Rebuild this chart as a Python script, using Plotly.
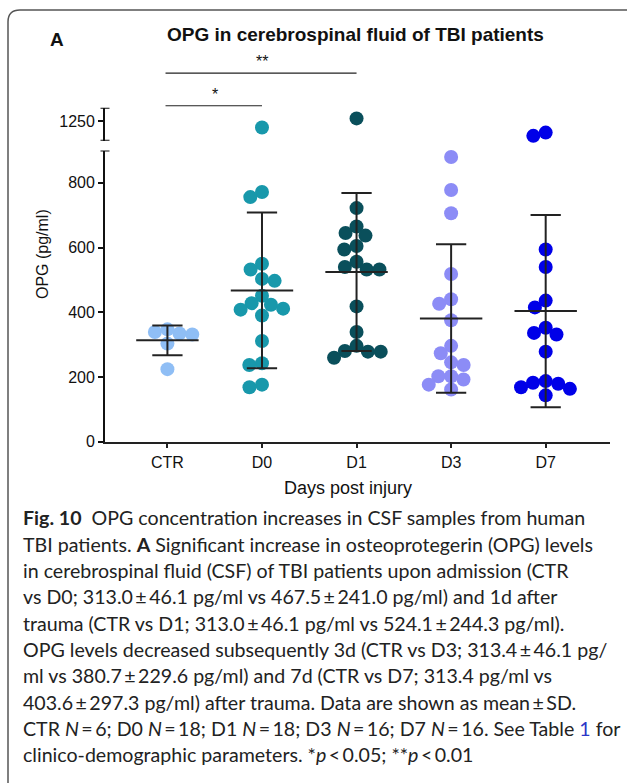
import math
import plotly.graph_objects as go

# ---------------- data ----------------
categories = ["CTR", "D0", "D1", "D3", "D7"]
ctr_values = [339, 334, 331, 347, 303, 224]
d0_values = [1230, 772, 756, 532, 550, 497, 503, 451, 428, 423, 411, 408, 390, 311, 242, 237, 176, 168]
d1_values = [1258, 722, 665, 645, 637, 594, 605, 556, 540, 532, 532, 418, 339, 296, 280, 278, 278, 259]
d3_values = [880, 778, 706, 518, 440, 426, 375, 296, 273, 245, 237, 202, 202, 192, 176, 161]
d7_values = [1214, 1204, 594, 540, 436, 415, 352, 336, 331, 278, 182, 179, 187, 168, 163, 143]
means = [313.0, 467.5, 524.1, 380.7, 403.6]
sds = [46.1, 241.0, 244.3, 229.6, 297.3]
colors = ["#8FBEF5", "#1898AB", "#0A4F5B", "#8C8CF6", "#0000E8"]
lower_ticks = [0, 200, 400, 600, 800]
upper_ticks = [1250]
group_values = [ctr_values, d0_values, d1_values, d3_values, d7_values]

# ---------------- layout geometry ----------------
W, H = 627, 783
X_LEFT, X_RIGHT = 105, 610
Y0_PX, Y900_PX = 446.7, 152.3         # lower segment (page px from top)
UP_BOT_PX, UP_TOP_PX = 142.3, 109.0   # upper segment
LOWER_RANGE = [0, 900]
UPPER_RANGE = [1189, 1291]
XRANGE = [-0.66, 4.68]
BREAK = LOWER_RANGE[1]

def py(p):
    return (H - p) / H

def px(p):
    return p / W

px_per_cat = (X_RIGHT - X_LEFT) / (XRANGE[1] - XRANGE[0])
lower_scale = (Y0_PX - Y900_PX) / (LOWER_RANGE[1] - LOWER_RANGE[0])
upper_scale = (UP_BOT_PX - UP_TOP_PX) / (UPPER_RANGE[1] - UPPER_RANGE[0])

def value_to_px(v):
    # vertical pixel height above the zero line, used only for the swarm layout
    if v <= BREAK:
        return (v - LOWER_RANGE[0]) * lower_scale
    return (Y0_PX - UP_BOT_PX) + (v - UPPER_RANGE[0]) * upper_scale

def swarm_offsets(values, diam=12.8):
    order = sorted(range(len(values)), key=lambda i: -values[i])
    placed = []
    offs = [0.0] * len(values)
    for i in order:
        y = value_to_px(values[i])
        cands = [0.0]
        for (xj, yj) in placed:
            dy = abs(y - yj)
            if dy < diam:
                dx = math.sqrt(diam * diam - dy * dy)
                cands += [xj - dx, xj + dx]
        cands.sort(key=lambda c: (abs(c), c))
        chosen = 0.0
        for c in cands:
            if all((c - xj) ** 2 + (y - yj) ** 2 >= diam * diam - 1e-6 for (xj, yj) in placed):
                chosen = c
                break
        placed.append((chosen, y))
        offs[i] = chosen / px_per_cat
    return offs

fig = go.Figure()

# ---------------- points ----------------
for gi, vals in enumerate(group_values):
    offs = swarm_offsets(vals)
    lx = [gi + o for v, o in zip(vals, offs) if v <= BREAK]
    ly = [v for v in vals if v <= BREAK]
    ux = [gi + o for v, o in zip(vals, offs) if v > BREAK]
    uy = [v for v in vals if v > BREAK]
    mk = dict(size=14, color=colors[gi], line=dict(width=0))
    fig.add_trace(go.Scatter(x=lx, y=ly, mode="markers", marker=mk, name=categories[gi],
                             xaxis="x", yaxis="y", showlegend=False, cliponaxis=False))
    if ux:
        fig.add_trace(go.Scatter(x=ux, y=uy, mode="markers", marker=mk, name=categories[gi],
                                 xaxis="x", yaxis="y2", showlegend=False, cliponaxis=False))

# ---------------- mean +/- SD ----------------
ex, ey = [], []
for gi, (m, s) in enumerate(zip(means, sds)):
    ex += [gi - 0.33, gi + 0.33, None, gi, gi, None,
           gi - 0.16, gi + 0.16, None, gi - 0.16, gi + 0.16, None]
    ey += [m, m, None, m - s, m + s, None,
           m + s, m + s, None, m - s, m - s, None]
fig.add_trace(go.Scatter(x=ex, y=ey, mode="lines", line=dict(color="#222222", width=2),
                         xaxis="x", yaxis="y", showlegend=False, hoverinfo="skip"))

ARIAL = "Liberation Sans, Arial, sans-serif"
axis_font = dict(family=ARIAL, size=16, color="#111111")
common_y = dict(showline=True, linecolor="#111111", linewidth=1.8, ticks="outside",
                ticklen=5, tickwidth=1.5, tickcolor="#111111", showgrid=False,
                zeroline=False, tickfont=axis_font)

fig.update_layout(
    width=W, height=H,
    margin=dict(l=0, r=0, t=0, b=0),
    paper_bgcolor="white", plot_bgcolor="white",
    xaxis=dict(domain=[px(X_LEFT), px(X_RIGHT)], range=XRANGE,
               tickmode="array", tickvals=list(range(len(categories))), ticktext=categories,
               showline=True, linecolor="#222222", linewidth=1.5, ticks="outside",
               ticklen=5, tickwidth=1.5, tickcolor="#222222", showgrid=False,
               zeroline=False, tickfont=axis_font, anchor="y"),
    yaxis=dict(domain=[py(Y0_PX), py(Y900_PX)], range=LOWER_RANGE,
               tickmode="array", tickvals=lower_ticks, anchor="x", **common_y),
    yaxis2=dict(domain=[py(UP_BOT_PX), py(UP_TOP_PX)], range=UPPER_RANGE,
                tickmode="array", tickvals=upper_ticks, anchor="x", **common_y),
)

# axis-break caps
cap = 4.5
for ref, yv in [("y", LOWER_RANGE[1]), ("y2", UPPER_RANGE[0]), ("y2", UPPER_RANGE[1])]:
    fig.add_shape(type="line", xref="paper", yref=ref,
                  x0=px(X_LEFT - cap), x1=px(X_LEFT + cap),
                  y0=yv, y1=yv, line=dict(color="#111111", width=1.8))

# significance bars
sig = [(0, 2, 74, 62, "**"), (0, 1, 107, 96, "*")]
for a, b, ly_, ty, txt in sig:
    fig.add_shape(type="line", xref="x", yref="paper", x0=a - 0.02, x1=b,
                  y0=py(ly_), y1=py(ly_), line=dict(color="#222222", width=1.2))
    fig.add_annotation(x=(a + b) / 2, y=py(ty), xref="x", yref="paper",
                       xanchor="center", yanchor="middle",
                       text=txt, showarrow=False,
                       font=dict(family=ARIAL, size=16, color="#111111"))

def label(xp, yp, text, size, angle=0):
    fig.add_annotation(x=px(xp), y=py(yp), xref="paper", yref="paper",
                       xanchor="center", yanchor="middle", text=text,
                       showarrow=False, textangle=angle,
                       font=dict(family=ARIAL, size=size, color="#111111"))

label(355, 35, "<b>OPG in cerebrospinal fluid of TBI patients</b>", 19)
label(57, 40, "<b>A</b>", 19)
label(42, 257, "OPG (pg/ml)", 16, -90)
label(348, 494, "Days post injury", 18)

# caption
t = "\u2009"
pm = f"{t}±{t}"
eq = f"{t}={t}"
caption_lines = [
    "<b>Fig. 10</b>  OPG concentration increases in CSF samples from human",
    "TBI patients. <b>A</b> Significant increase in osteoprotegerin (OPG) levels",
    "in cerebrospinal fluid (CSF) of TBI patients upon admission (CTR",
    f"vs D0; 313.0{pm}46.1 pg/ml vs 467.5{pm}241.0 pg/ml) and 1d after",
    f"trauma (CTR vs D1; 313.0{pm}46.1 pg/ml vs 524.1{pm}244.3 pg/ml).",
    f"OPG levels decreased subsequently 3d (CTR vs D3; 313.4{pm}46.1 pg/",
    f"ml vs 380.7{pm}229.6 pg/ml) and 7d (CTR vs D7; 313.4 pg/ml vs",
    f"403.6{pm}297.3 pg/ml) after trauma. Data are shown as mean{pm}SD.",
    f"CTR <i>N</i>{eq}6; D0 <i>N</i>{eq}18; D1 <i>N</i>{eq}18; D3 <i>N</i>{eq}16; D7 <i>N</i>{eq}16. See Table <span style='color:#2b35c8'>1</span> for",
    f"clinico-demographic parameters. *<i>p</i>{t}<{t}0.05; **<i>p</i>{t}<{t}0.01",
]
for k, line in enumerate(caption_lines):
    fig.add_annotation(x=px(21), y=py(524 + k * 26.6), xref="paper",
                       yref="paper", xanchor="left", yanchor="middle", text=line,
                       showarrow=False,
                       font=dict(family="Lato, Noto Sans, sans-serif", size=19.6, color="#222222"))

# frame
r = 12
path = (f"M {px(8)} {py(800)} L {px(8)} {py(10 + r)} "
        f"Q {px(8)} {py(10)} {px(8 + r)} {py(10)} L {px(650)} {py(10)}")
fig.add_shape(type="path", xref="paper", yref="paper", path=path,
              line=dict(color="#555555", width=1.5))

fig.write_html("out.html", config={"displayModeBar": False},
               post_script="document.body.style.margin='0px';")
